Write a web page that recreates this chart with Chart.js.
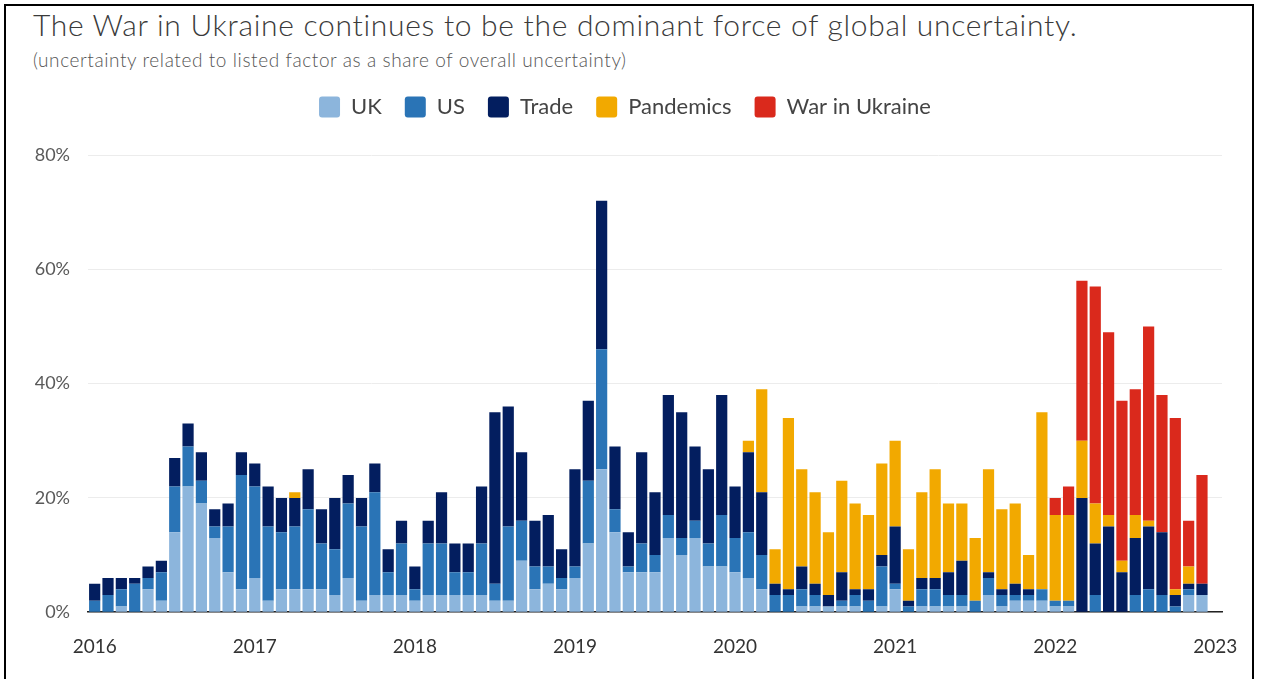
<!DOCTYPE html>
<html>
<head>
<meta charset="utf-8">
<script src="https://cdn.jsdelivr.net/npm/chart.js@4.4.1/dist/chart.umd.min.js"></script>
<style>
    html, body { margin: 0; padding: 0; background: #fff; }
    body { width: 1261px; height: 679px; position: relative; overflow: hidden; font-family: Lato, sans-serif; }
    #frame { position: absolute; left: 4px; top: 4px; width: 1250px; height: 700px; border: 2px solid #000; box-sizing: border-box; }
    #title { position: absolute; left: 33px; top: 6px; font-size: 30px; font-weight: 300; letter-spacing: 0.7px; color: #3a3a3a; white-space: nowrap; }
    #subtitle { position: absolute; left: 33px; top: 48px; font-size: 19px; font-weight: 300; letter-spacing: 0.6px; color: #555; white-space: nowrap; }
    #wrap { position: absolute; left: 0; top: 0; width: 1261px; height: 681px; }
</style>
</head>
<body>
<div id="frame"></div>
<div id="title">The War in Ukraine continues to be the dominant force of global uncertainty.</div>
<div id="subtitle">(uncertainty related to listed factor as a share of overall uncertainty)</div>
<div id="wrap"><canvas id="myChart" width="1261" height="681"></canvas></div>
<script>
// one value per month, Jan 2016 .. Dec 2022 (share of overall uncertainty, %)
const years = ['2016', '2017', '2018', '2019', '2020', '2021', '2022', '2023'];

const uk = [0, 0, 1, 0, 4, 2, 14, 22, 19, 13, 7, 4,
    6, 2, 4, 4, 4, 4, 3, 6, 2, 3, 3, 3,
    2, 3, 3, 3, 3, 3, 2, 2, 9, 4, 5, 4,
    6, 12, 25, 14, 7, 7, 7, 13, 10, 13, 8, 8,
    7, 6, 4, 0, 0, 1, 1, 1, 1, 1, 0, 1,
    4, 0, 1, 1, 1, 1, 0, 3, 1, 2, 2, 2,
    1, 1, 0, 0, 0, 0, 0, 0, 0, 0, 3, 3];
const us = [2, 3, 3, 5, 2, 5, 8, 7, 4, 2, 8, 20,
    16, 13, 10, 11, 14, 8, 8, 13, 13, 18, 4, 9,
    2, 9, 9, 4, 4, 9, 3, 13, 7, 4, 3, 2,
    2, 11, 21, 4, 1, 5, 3, 4, 3, 3, 4, 9,
    6, 8, 6, 3, 3, 3, 2, 0, 1, 2, 2, 7,
    1, 1, 3, 3, 2, 2, 2, 3, 2, 1, 1, 2,
    1, 1, 0, 3, 0, 0, 3, 4, 3, 1, 1, 0];
const trade = [3, 3, 2, 1, 2, 2, 5, 4, 5, 3, 4, 4,
    4, 7, 6, 5, 7, 6, 9, 5, 5, 5, 4, 4,
    4, 4, 9, 5, 5, 10, 30, 21, 12, 8, 9, 5,
    17, 14, 26, 11, 6, 16, 11, 21, 22, 13, 13, 21,
    9, 14, 11, 2, 1, 4, 2, 2, 5, 1, 2, 2,
    10, 1, 2, 2, 4, 6, 0, 1, 1, 2, 1, 0,
    0, 0, 20, 9, 15, 7, 10, 11, 11, 2, 1, 2];
const pandemics = [0, 0, 0, 0, 0, 0, 0, 0, 0, 0, 0, 0,
    0, 0, 0, 1, 0, 0, 0, 0, 0, 0, 0, 0,
    0, 0, 0, 0, 0, 0, 0, 0, 0, 0, 0, 0,
    0, 0, 0, 0, 0, 0, 0, 0, 0, 0, 0, 0,
    0, 2, 18, 6, 30, 17, 16, 11, 16, 15, 13, 16,
    15, 9, 15, 19, 12, 10, 11, 18, 14, 14, 6, 31,
    15, 15, 10, 7, 2, 2, 4, 1, 0, 1, 3, 0];
const war = [0, 0, 0, 0, 0, 0, 0, 0, 0, 0, 0, 0,
    0, 0, 0, 0, 0, 0, 0, 0, 0, 0, 0, 0,
    0, 0, 0, 0, 0, 0, 0, 0, 0, 0, 0, 0,
    0, 0, 0, 0, 0, 0, 0, 0, 0, 0, 0, 0,
    0, 0, 0, 0, 0, 0, 0, 0, 0, 0, 0, 0,
    0, 0, 0, 0, 0, 0, 0, 0, 0, 0, 0, 0,
    3, 5, 28, 38, 32, 28, 22, 34, 24, 30, 8, 19];

const yTicks = [0, 20, 40, 60, 80];

// month categories, plus Jan 2023 so the last year label gets its own slot
const months = [];
for (let y = 0; y < years.length - 1; y++)
    for (let m = 1; m <= 12; m++)
        months.push(years[y] + '-' + String(m).padStart(2, '0'));
months.push(years[years.length - 1] + '-01');

Chart.defaults.font.family = 'Lato, sans-serif';
Chart.defaults.color = '#555';

const legendGap = {
    id: 'legendGap',
    beforeInit(chart) {
        const fit = chart.legend.fit;
        chart.legend.fit = function () {
            fit.bind(chart.legend)();
            this.height += 27;
        };
    }
};

function ds(label, data, color) {
    return {
        label: label,
        data: data,
        backgroundColor: color,
        borderWidth: 0,
        barPercentage: 0.84,
        categoryPercentage: 1.0
    };
}

const ctx = document.getElementById('myChart').getContext('2d');
const myChart = new Chart(ctx, {
    type: 'bar',
    data: {
        labels: months,
        datasets: [
            ds('UK', uk, '#8cb5dc'),
            ds('US', us, '#2a74b6'),
            ds('Trade', trade, '#031e5f'),
            ds('Pandemics', pandemics, '#f2a900'),
            ds('War in Ukraine', war, '#da291c')
        ]
    },
    plugins: [legendGap],
    options: {
        responsive: false,
        animation: false,
        layout: {padding: {top: 73, left: 28, right: 39, bottom: 0}},
        scales: {
            x: {
                stacked: true,
                grid: {display: false, drawTicks: false},
                border: {display: true, color: '#222', width: 1.5},
                ticks: {
                    autoSkip: false,
                    maxRotation: 0,
                    padding: 23,
                    color: '#333',
                    font: {size: 19},
                    callback: function (val) {
                        const lab = this.getLabelForValue(val);
                        return lab.endsWith('-01') ? lab.slice(0, 4) : '';
                    }
                }
            },
            y: {
                stacked: true,
                min: yTicks[0],
                max: yTicks[yTicks.length - 1],
                afterBuildTicks: (axis) => { axis.ticks = yTicks.map(v => ({value: v})); },
                afterFit: (axis) => { axis.width = 60; },
                grid: {color: '#ececec', drawTicks: false},
                border: {display: false},
                ticks: {
                    padding: 18,
                    color: '#595959',
                    font: {size: 18},
                    callback: (v) => v + '%'
                }
            }
        },
        plugins: {
            legend: {
                position: 'top',
                onClick: null,
                labels: {
                    boxWidth: 21,
                    boxHeight: 21,
                    useBorderRadius: true,
                    borderRadius: 3,
                    padding: 23,
                    color: '#444',
                    font: {size: 22}
                }
            },
            tooltip: {enabled: false}
        }
    }
});
</script>
</body>
</html>
